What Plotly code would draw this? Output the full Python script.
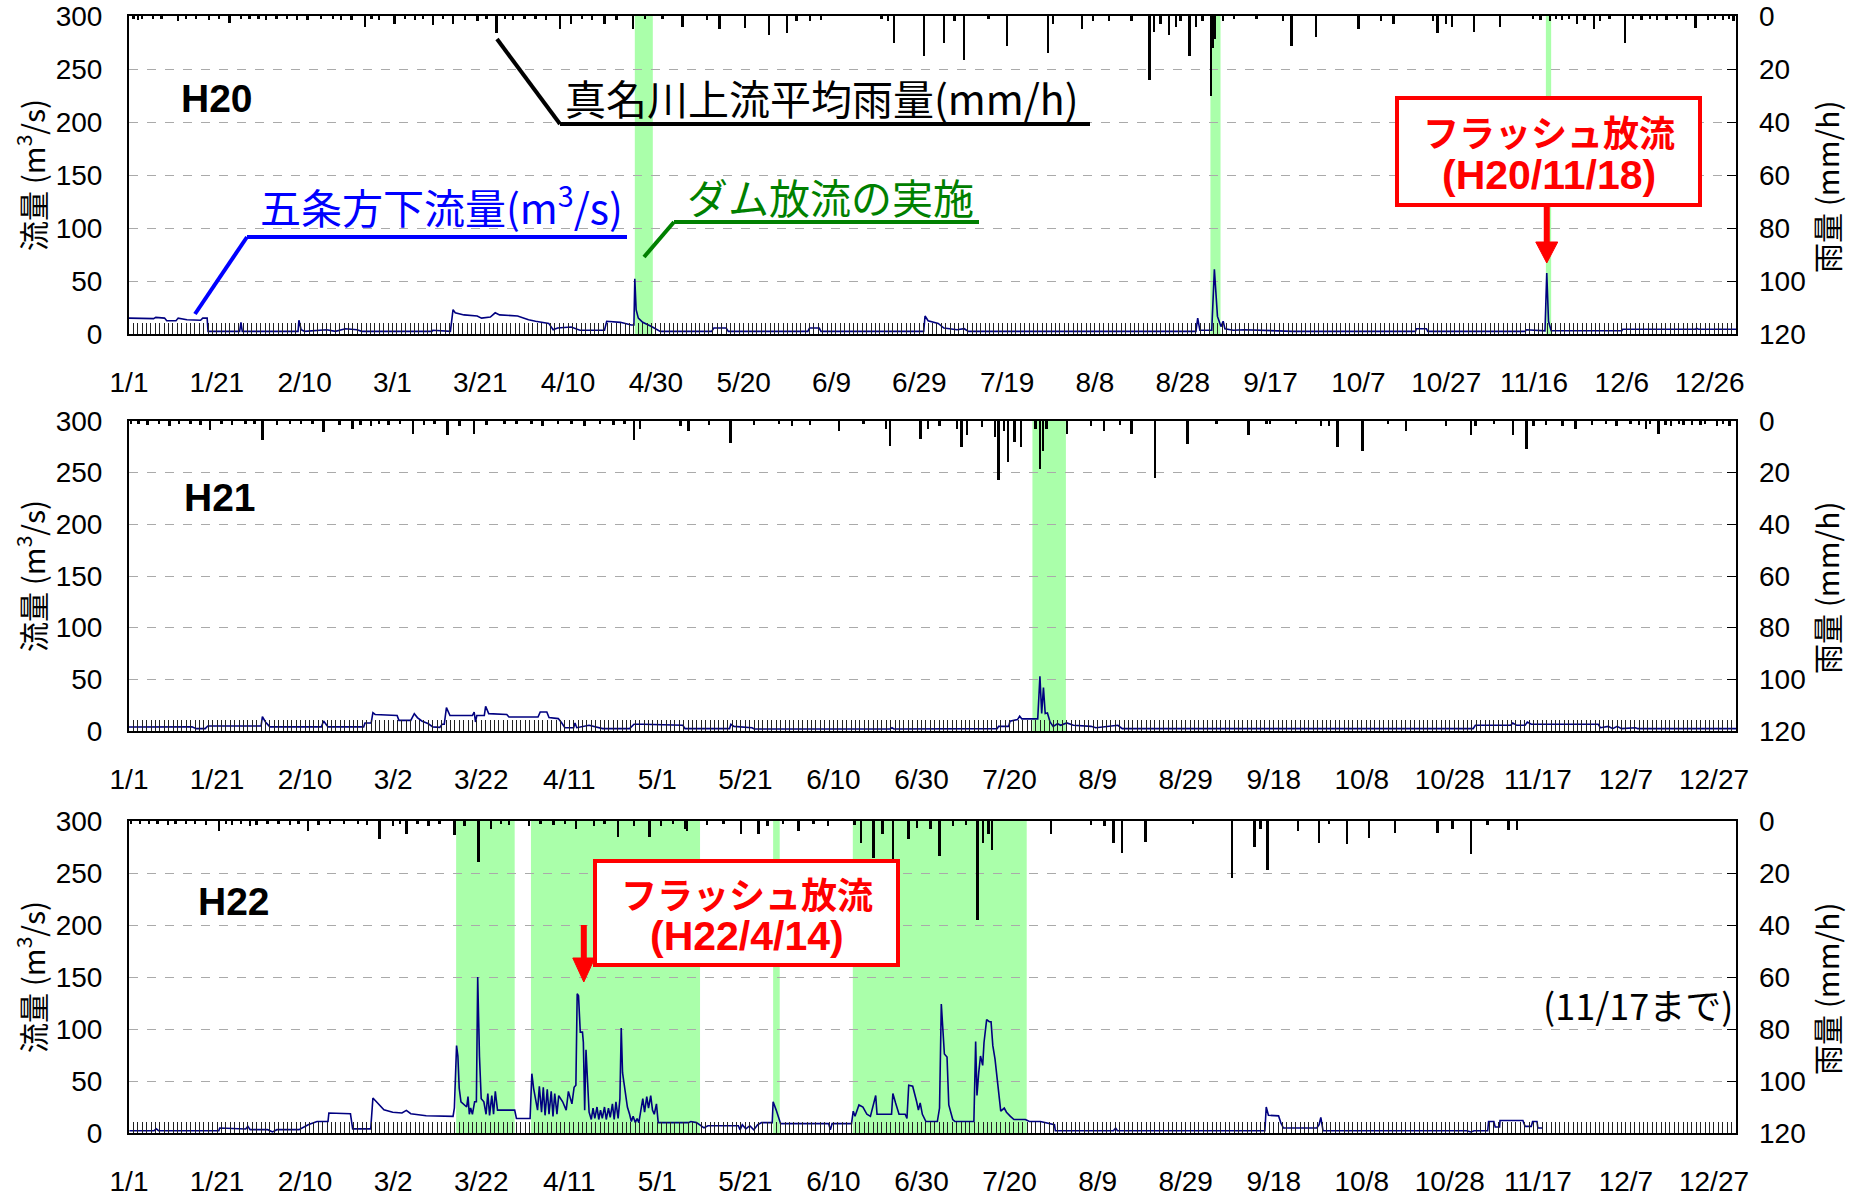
import plotly.graph_objects as go

W, H = 1854, 1197

# ---------------------------------------------------------------
# Data (x values are days counted from 1 Jan 00:00 of each year)
# ---------------------------------------------------------------
TICKS_LEAP = ["1/1", "1/21", "2/10", "3/1", "3/21", "4/10", "4/30", "5/20", "6/9", "6/29",
              "7/19", "8/8", "8/28", "9/17", "10/7", "10/27", "11/16", "12/6", "12/26"]
TICKS_NORMAL = ["1/1", "1/21", "2/10", "3/2", "3/22", "4/11", "5/1", "5/21", "6/10", "6/30",
                "7/20", "8/9", "8/29", "9/18", "10/8", "10/28", "11/17", "12/7", "12/27"]
TICK_DAYS = list(range(0, 361, 20))

# --- H20 (2008) ---
H20_FLOW_DAY = [0.0, 5.6, 6.1, 8.1, 8.6, 10.7, 11.2, 13.2, 16.3, 16.8, 17.8, 18.0, 25.2, 25.5, 25.8,
                38.5, 38.7, 39.2, 40.0, 42.7, 45.0, 47.0, 49.3, 51.9, 53.0, 69.0, 69.2, 73.2, 73.8,
                74.3, 76.3, 79.3, 80.3, 82.3, 83.4, 84.4, 88.5, 91.0, 92.6, 95.6, 96.6, 97.6, 100.7,
                102.7, 108.3, 108.8, 111.9, 114.4, 115.0, 115.2, 115.5, 116.0, 117.0, 119.0, 121.0,
                132.7, 133.2, 136.0, 136.5, 154.6, 155.0, 157.2, 157.6, 181.0, 181.3, 182.0, 184.3,
                185.6, 188.6, 190.2, 191.2, 243.0, 243.4, 243.9, 246.6, 247.2, 247.5, 247.9, 248.7,
                249.2, 249.6, 251.5, 254.0, 260.0, 265.0, 293.0, 293.2, 295.5, 295.8, 318.0, 318.2,
                322.5, 322.9, 323.3, 323.9, 340.0, 340.2, 356.8, 357.0, 357.4, 366.0]
H20_FLOW = [15, 14.5, 15.7, 15, 12.5, 12.5, 15, 13.5, 13, 15, 15, 2.5, 2.5, 11, 2.5,
            2.5, 13, 4, 2.5, 3, 4, 2.5, 5, 4, 2.5, 2.5, 3.5, 2.5, 23,
            20, 18, 17, 15, 16, 20, 18, 17, 13.5, 12, 10, 4, 5.6, 6.6,
            3.5, 3.5, 12, 11, 8.5, 8.5, 52, 23, 15, 11, 7, 2.5,
            2.5, 5.6, 5.6, 2.5, 2.5, 5.6, 5.6, 2.5, 2.5, 17, 12.5, 10,
            5.6, 4, 5, 2.5, 2.5, 15, 3.5, 3.5, 61, 39, 16.6, 7,
            12, 5, 3.5, 4, 3, 2.5, 2.5, 5, 5, 2.5, 2.5, 4,
            3, 57.5, 12, 3, 3, 4.5, 4.5, 5.5, 4.5, 4.5]
H20_RAIN_DAY = [1.0, 2.0, 3.0, 5.5, 7.4, 11.2, 13.0, 15.3, 18.2, 20.5, 22.9, 25.5, 27.4, 29.5,
                31.2, 33.6, 36.0, 38.3, 40.7, 43.7, 46.4, 48.3, 50.7, 53.7, 55.2, 57.0, 60.5,
                62.8, 65.1, 67.0, 69.2, 71.5, 73.8, 76.5, 79.4, 81.4, 83.7, 85.6, 87.5, 90.1,
                92.6, 95.0, 98.2, 100.7, 103.2, 105.5, 108.3, 111.0, 114.8, 117.5, 121.5, 126.1,
                131.7, 134.5, 140.3, 145.7, 149.8, 152.0, 155.1, 157.6, 171.4, 172.8, 174.2,
                181.0, 185.6, 188.0, 190.2, 195.8, 200.0, 209.3, 210.5, 217.1, 219.6, 223.2,
                228.3, 232.4, 233.4, 234.9, 236.9, 238.4, 239.5, 241.5, 243.0, 244.5, 246.4,
                246.9, 247.4, 249.1, 251.7, 256.8, 262.8, 264.8, 270.3, 280.0, 285.2, 288.0,
                297.0, 298.0, 299.9, 301.3, 306.3, 312.2, 319.8, 321.5, 323.6, 325.0, 326.4,
                328.0, 329.8, 331.5, 333.6, 335.0, 337.2, 340.7, 342.6, 344.5, 346.4, 348.0,
                350.2, 352.5, 354.6, 356.8, 359.6, 361.2, 363.0, 364.4, 365.4]
H20_RAIN = [1, 1.5, 1, 1, 1, 2, 1, 1, 1.5, 1, 2.5, 1, 1, 1,
            1.5, 1, 1, 1.5, 1.5, 1, 1, 1.5, 1.5, 4, 1, 1.5, 3,
            1, 1.5, 1, 3.5, 1, 3, 1.5, 2, 1, 6.5, 1, 1.5, 1,
            1, 1.5, 5, 3, 1, 1.5, 3, 1.5, 5, 1, 1, 4,
            1.5, 5, 4.5, 7, 6.5, 2, 2, 1.5, 1, 2, 10,
            15, 10, 2, 16.5, 1, 11.5, 14, 3, 5, 2, 2,
            2, 24, 6, 3, 7, 4, 2, 15, 4, 2, 30,
            12, 8.5, 2, 1, 1, 2, 11.5, 8, 5, 2, 3,
            2, 6.5, 3, 4, 6, 4, 1, 1.5, 2, 1, 1.5,
            1, 3, 1.5, 5, 2, 1, 10, 1, 1.5, 1, 1.5,
            1.5, 1, 1.5, 4.6, 1.5, 1, 1.5, 1, 2]
H20_RELEASE_START = [115.2, 246.3, 322.7]
H20_RELEASE_END = [119.3, 248.6, 323.9]
H20_FLASH_DAY = 322.9   # 11/18

# --- H21 (2009) ---
H21_FLOW_DAY = [0.0, 14.3, 15.3, 17.3, 17.9, 30.0, 30.3, 31.0, 32.0, 43.7, 44.2, 45.2, 53.3, 53.6,
                55.0, 55.4, 55.9, 60.9, 61.3, 64.0, 64.8, 65.5, 66.5, 68.0, 69.0, 70.6, 71.1, 71.6,
                72.1, 72.9, 78.0, 78.4, 78.7, 79.0, 80.7, 81.0, 81.7, 85.8, 86.3, 92.9, 93.4, 94.9,
                95.4, 97.5, 98.3, 99.0, 101.0, 101.3, 101.7, 104.5, 107.6, 113.7, 114.7, 116.7,
                125.8, 126.3, 136.4, 136.7, 137.4, 141.5, 142.0, 172.9, 173.3, 173.7, 197.2, 197.5,
                199.8, 200.1, 201.8, 202.3, 202.8, 206.4, 206.9, 207.3, 207.7, 208.1, 208.6, 209.2,
                209.9, 210.9, 211.6, 213.0, 214.5, 218.5, 219.6, 224.6, 225.6, 305.3, 305.8, 313.8,
                314.3, 315.2, 317.1, 317.6, 318.5, 333.7, 334.2, 336.0, 337.0, 338.0, 339.0, 342.2,
                342.7, 365.0]
H21_FLOW = [3.9, 4, 2.3, 2.3, 4.8, 4.8, 14, 8.7, 4, 4, 9.7, 4, 4, 7.7,
            7.7, 17.7, 16, 15, 10.3, 10.3, 16.8, 13, 9.7, 7, 4, 3.5, 6.5, 6.5,
            22.6, 15, 15, 18.4, 8.7, 15, 15, 23.9, 16.8, 16, 13.5, 13.5, 18.4, 18.4,
            13, 12, 7.7, 3.2, 3.2, 7.7, 3.2, 5.5, 2.3, 2.3, 6.5, 6.5,
            5.5, 2.3, 2.3, 6.5, 4.5, 3.2, 2, 2, 3.2, 2, 2.3, 4.5,
            4.5, 9.4, 11, 14.3, 11.7, 11.7, 53, 17, 42, 17, 17.5, 8.8,
            4.5, 7, 5.5, 7.8, 5.5, 4.5, 3.2, 5.5, 2.3, 2.3, 5.5, 5.5,
            7.7, 5.5, 5.5, 8.7, 6.5, 6.5, 3.2, 4.5, 2.3, 4.5, 2.3, 3.2,
            2.3, 2.3]
H21_RAIN_DAY = [0.5, 2.2, 4.2, 6.8, 9.2, 11.3, 14.0, 16.2, 18.4, 21.0, 23.4, 26.5, 28.5, 30.3,
                33.6, 36.6, 39.0, 41.7, 44.2, 47.8, 50.8, 52.6, 54.9, 56.8, 58.9, 61.5, 64.5,
                67.0, 69.4, 72.3, 75.1, 78.4, 81.2, 85.3, 88.0, 91.4, 93.9, 97.5, 100.5, 103.5,
                107.0, 110.0, 112.5, 114.7, 116.1, 125.3, 127.1, 131.8, 136.6, 142.0, 147.6,
                150.6, 154.7, 161.2, 166.8, 171.9, 172.9, 179.8, 181.5, 184.1, 188.1, 189.1,
                190.3, 193.7, 196.7, 197.5, 198.8, 199.6, 201.1, 202.6, 205.9, 206.9, 207.6,
                208.4, 213.0, 218.5, 221.4, 225.1, 227.7, 233.0, 240.4, 247.0, 254.3, 258.4,
                259.1, 265.1, 270.7, 272.6, 274.5, 280.2, 285.9, 290.1, 299.1, 304.8, 305.8,
                310.0, 314.3, 317.4, 319.0, 321.9, 325.6, 328.5, 332.3, 335.5, 337.9, 341.0,
                343.0, 344.6, 345.5, 347.4, 349.0, 350.3, 352.0, 353.1, 355.0, 356.9, 358.0,
                360.7, 362.0, 363.5]
H21_RAIN = [1, 1, 1.5, 1, 2, 1, 1, 1.5, 3.6, 1, 1.5, 1, 1, 7.2,
            1.5, 1, 1, 1, 4.3, 1.5, 3, 1.5, 2, 1, 1.5, 1, 5,
            1.5, 1, 5.5, 2, 5, 1.5, 1, 1, 1, 2, 1, 1, 2,
            1, 1.5, 1, 7.2, 3, 2, 4, 1.5, 8.5, 1.5, 1,
            2, 1.5, 4, 1, 3, 9.5, 7, 3, 2, 3, 10,
            5.5, 2.5, 6, 23, 4, 16, 8, 10, 3, 18.5, 11.5,
            3, 5, 2, 4, 1.5, 5, 22, 9, 1, 5.5, 1,
            1, 1, 2, 2, 10, 11.5, 1, 4, 2, 5.5, 2,
            1, 5.5, 10.7, 2, 1.5, 2, 3, 1.5, 1, 2, 1,
            1.5, 3, 1, 5, 1.5, 2, 1, 1.5, 1.5, 1.5, 1,
            2, 1, 2]
H21_RELEASE_START = [205.2]
H21_RELEASE_END = [212.8]

# --- H22 (2010, observed up to 11/17) ---
H22_FLOW_DAY = [0.1, 5.7, 6.2, 6.7, 20.4, 20.6, 26.5, 27.0, 27.5, 31.5, 32.6, 33.6, 38.6, 39.7,
                40.7, 42.7, 45.2, 45.4, 50.3, 50.8, 54.9, 55.4, 56.4, 57.9, 59.9, 62.0, 63.0, 64.0,
                67.5, 73.6, 73.9, 74.4, 74.7, 75.0, 75.4, 76.3, 76.7, 77.0, 77.3, 77.6, 78.0, 78.5,
                78.9, 79.2, 79.6, 80.0, 80.6, 81.1, 81.5, 81.9, 82.4, 82.8, 83.2, 83.7, 87.6, 88.0,
                91.1, 91.5, 91.9, 92.8, 93.2, 93.7, 94.1, 94.5, 95.0, 95.4, 95.9, 96.3, 96.7, 97.2,
                97.6, 98.5, 99.3, 99.8, 100.6, 101.1, 101.5, 101.8, 102.1, 102.5, 103.0, 103.2,
                103.5, 103.8, 104.1, 104.5, 105.0, 105.4, 105.8, 106.3, 106.7, 107.1, 107.5, 108.0,
                108.4, 108.9, 109.3, 109.8, 110.2, 110.6, 111.1, 111.5, 111.8, 112.1, 112.4, 112.8,
                113.2, 113.7, 114.1, 114.5, 115.0, 115.4, 115.8, 116.7, 117.1, 117.6, 118.0, 118.5,
                118.9, 119.3, 119.8, 120.2, 127.1, 127.6, 128.9, 130.6, 131.5, 138.4, 138.8, 139.3,
                140.1, 141.0, 141.9, 142.8, 143.7, 146.1, 146.3, 147.0, 147.6, 148.0, 158.9, 159.3,
                159.7, 164.1, 164.5, 164.9, 165.8, 166.7, 167.6, 168.4, 169.6, 169.9, 173.2, 173.5,
                174.1, 174.9, 176.3, 176.7, 177.1, 178.0, 178.9, 179.3, 179.7, 180.2, 181.0, 183.6,
                184.1, 184.5, 185.2, 185.8, 186.2, 187.1, 187.6, 191.9, 192.3, 192.6, 193.0, 193.4,
                193.9, 194.2, 194.8, 195.4, 195.8, 196.2, 196.7, 197.1, 197.5, 198.0, 198.8, 199.3,
                200.2, 201.0, 203.6, 204.5, 207.0, 210.2, 210.4, 223.6, 224.1, 224.5, 258.0, 258.3,
                258.8, 261.1, 261.6, 262.2, 269.8, 270.3, 270.7, 271.2, 303.9, 304.8, 305.5, 308.6,
                308.8, 310.0, 310.3, 311.3, 311.4, 316.6, 317.1, 318.5, 318.8, 319.8, 320.0, 321.1]
H22_FLOW = [2.2, 2.2, 4, 2.2, 2.2, 4.8, 3.8, 6.4, 3.2, 3.2, 1, 3.2, 3.2, 5.4,
            8, 11, 11, 19.2, 18.5, 4, 4, 33.6, 28.8, 22.4, 20, 19.2, 21.7, 18.5,
            16.6, 16, 24, 84, 74, 43, 30, 27, 25, 35, 18, 24, 18, 30,
            30, 150, 74, 33, 30, 18, 38, 17, 36, 18, 40, 22, 22, 14,
            14, 57, 43, 22, 45, 20, 44, 17, 42, 18, 40, 16, 38, 18,
            36, 30, 22, 40, 28, 44, 46, 134, 132, 97, 97, 87,
            22, 80, 46, 20, 13, 24, 14, 25, 13, 22, 14, 25,
            13, 24, 15, 28, 13, 30, 14, 33, 101, 58, 49, 36,
            25, 18, 11, 16, 10, 14, 10, 33, 20, 35, 24, 36,
            22, 18, 28, 10, 10, 11, 10, 5, 7, 7, 3, 8,
            4, 7, 3, 8, 10, 10, 30, 22, 13, 9, 9, 3,
            9, 9, 21, 16, 27, 25, 18, 16, 36, 18, 18, 38,
            29, 18, 18, 14, 46, 45, 30, 22, 29, 18, 11, 11,
            24, 124, 76, 73, 27, 13, 11, 11, 88, 36, 58, 74,
            65, 87, 109, 107, 107, 84, 71, 54, 43, 21, 24, 20,
            16, 13, 13, 11, 11, 8, 2.2, 2.2, 4.7, 2.2, 2.2, 25,
            17, 16.5, 10, 4.8, 4.8, 8, 15, 2.2, 2.2, 1, 2.2, 2.2,
            11, 11, 5.8, 5.8, 12, 12, 6.4, 6.4, 11, 11, 4.8, 4.8]
H22_RAIN_DAY = [0.5, 2.5, 4.5, 6.5, 8.8, 10.6, 12.9, 15.0, 17.5, 20.4, 22.0, 23.4, 25.5, 27.5,
                29.0, 31.5, 34.0, 36.6, 38.5, 40.7, 43.0, 45.7, 48.8, 52.0, 54.0, 56.9, 59.9,
                61.5, 63.0, 65.5, 68.0, 70.5, 73.9, 76.2, 79.4, 82.2, 84.5, 86.3, 90.9, 93.5,
                96.4, 99.0, 101.5, 105.6, 108.0, 111.1, 114.7, 118.2, 120.8, 123.5, 126.3,
                126.8, 131.3, 135.0, 139.0, 143.0, 145.0, 148.5, 152.1, 155.5, 158.7, 164.8,
                166.3, 169.1, 171.1, 173.5, 177.0, 179.0, 182.0, 184.1, 187.1, 190.1, 192.7,
                194.0, 195.2, 196.0, 209.4, 218.5, 221.6, 223.6, 225.6, 230.9, 241.7, 250.5,
                255.6, 257.0, 258.6, 265.5, 270.3, 272.6, 276.6, 281.6, 287.5, 297.2, 300.6,
                304.8, 308.6, 313.3, 315.2]
H22_RAIN = [1, 1, 1, 1, 1.5, 1, 1, 1, 1.5, 4, 1, 1.5, 1, 2,
            1.5, 1, 1, 1.5, 1, 4, 1.5, 1, 1, 1, 1.5, 6.8, 2,
            1, 5, 1, 2, 1, 5.5, 2, 15.7, 3, 1, 1.5, 2, 1,
            1.5, 1, 3, 2, 1, 6, 2, 6, 2, 1, 3,
            4, 1.5, 1, 5, 5, 2, 1, 4, 1, 2, 1.5,
            8.6, 14.3, 5, 15, 7, 2.5, 3, 13.4, 2, 1.5, 38,
            8.5, 5, 11, 5, 1.5, 2, 8.6, 12.4, 8, 1, 22,
            10, 3, 18.7, 4, 8.5, 1, 9, 6.4, 4.5, 4.5, 3,
            12.5, 1.5, 3.5, 3.5]
H22_RELEASE_START = [74.3, 91.3, 146.3, 164.4]
H22_RELEASE_END = [87.6, 129.7, 147.8, 203.9]
H22_FLASH_DAY = 103.3   # 4/14

# ---------------------------------------------------------------
# Layout helpers (pixel -> paper)
# ---------------------------------------------------------------
def px(x):
    return x / W


def py(y):
    return 1 - y / H


X_LEFT, X_RIGHT = 129, 1736
PANEL_PX = [(16, 334), (421, 731), (821, 1133)]   # (top, bottom) in pixels

NUM_FONT = "Liberation Sans, Arial, sans-serif"
JP_FONT = "Noto Sans CJK JP, sans-serif"
FLOW_COLOR = "#000080"
RELEASE_COLOR = "#AAFFAA"

panels = [
    dict(name="H20", ndays=366, ticks=TICKS_LEAP,
         fday=H20_FLOW_DAY, flow=H20_FLOW, rday=H20_RAIN_DAY, rain=H20_RAIN,
         rs=H20_RELEASE_START, re=H20_RELEASE_END, label_xy=(217, 98)),
    dict(name="H21", ndays=365, ticks=TICKS_NORMAL,
         fday=H21_FLOW_DAY, flow=H21_FLOW, rday=H21_RAIN_DAY, rain=H21_RAIN,
         rs=H21_RELEASE_START, re=H21_RELEASE_END, label_xy=(220, 497)),
    dict(name="H22", ndays=365, ticks=TICKS_NORMAL,
         fday=H22_FLOW_DAY, flow=H22_FLOW, rday=H22_RAIN_DAY, rain=H22_RAIN,
         rs=H22_RELEASE_START, re=H22_RELEASE_END, label_xy=(234, 901)),
]

fig = go.Figure()
shapes = []
annotations = []
layout_axes = {}

for i, p in enumerate(panels):
    n = i + 1
    xname = "x" if n == 1 else f"x{n}"
    yl_name = "y" if n == 1 else f"y{2 * n - 1}"
    yr_name = f"y{2 * n}"
    xkey = "xaxis" if n == 1 else f"xaxis{n}"
    ylkey = "yaxis" if n == 1 else f"yaxis{2 * n - 1}"
    yrkey = f"yaxis{2 * n}"
    top, bot = PANEL_PX[i]

    # rainfall (hanging from the top, reversed right axis)
    fig.add_trace(go.Bar(x=p["rday"], y=p["rain"], width=0.55, marker_color="black",
                         marker_line_width=0, xaxis=xname, yaxis=yr_name, showlegend=False))
    # discharge
    fig.add_trace(go.Scatter(x=p["fday"], y=p["flow"], mode="lines",
                             line=dict(color=FLOW_COLOR, width=1.6),
                             xaxis=xname, yaxis=yl_name, showlegend=False))

    # dam release periods
    for s, e in zip(p["rs"], p["re"]):
        shapes.append(dict(type="rect", xref=xname, yref="paper", x0=s, x1=e,
                           y0=py(bot), y1=py(top), fillcolor=RELEASE_COLOR,
                           line_width=0, layer="below"))

    layout_axes[xkey] = dict(
        domain=[px(X_LEFT), px(X_RIGHT)], range=[0, p["ndays"]], anchor=yl_name,
        tickmode="array", tickvals=TICK_DAYS, ticktext=p["ticks"],
        ticks="inside", ticklen=11, tickwidth=1, tickcolor="#222",
        minor=dict(ticks="inside", ticklen=11, tickwidth=1, tickcolor="#222",
                   tickmode="linear", tick0=0, dtick=1, showgrid=False),
        showgrid=False, zeroline=False, showline=True, linecolor="black", linewidth=2,
        mirror=True, automargin=False,
        tickfont=dict(family=NUM_FONT, size=28, color="black"),
        ticklabelstandoff=22,
    )
    layout_axes[ylkey] = dict(
        domain=[py(bot), py(top)], range=[0, 300], anchor=xname,
        tickmode="linear", tick0=0, dtick=50, ticks="",
        showgrid=True, gridcolor="#aaaaaa", griddash="dash", gridwidth=1,
        zeroline=False, showline=True, linecolor="black", linewidth=2, mirror=True,
        automargin=False,
        tickfont=dict(family=NUM_FONT, size=28, color="black"), ticklabelstandoff=19,
    )
    layout_axes[yrkey] = dict(
        overlaying=yl_name, side="right", anchor=xname, range=[120, 0],
        tickmode="linear", tick0=0, dtick=20, ticks="inside", ticklen=9,
        tickcolor="black", tickwidth=1, showgrid=False, zeroline=False, showline=False,
        automargin=False,
        tickfont=dict(family=NUM_FONT, size=28, color="black"), ticklabelstandoff=22,
    )

    # year label
    lx, ly = p["label_xy"]
    annotations.append(dict(text=f"<b>{p['name']}</b>", xref="paper", yref="paper",
                            x=px(lx), y=py(ly), xanchor="center", yanchor="middle",
                            showarrow=False, font=dict(family=NUM_FONT, size=39, color="black")))
    # axis titles
    cy = (top + bot) / 2
    annotations.append(dict(text="流量 (m<sup>3</sup>/s)", xref="paper", yref="paper",
                            x=px(31), y=py(cy), textangle=-90, showarrow=False,
                            xanchor="center", yanchor="middle",
                            font=dict(family=JP_FONT, size=30, color="black")))
    annotations.append(dict(text="雨量 (mm/h)", xref="paper", yref="paper",
                            x=px(1826), y=py(cy + 12), textangle=-90, showarrow=False,
                            xanchor="center", yanchor="middle",
                            font=dict(family=JP_FONT, size=30, color="black")))

# ---------------------------------------------------------------
# Call-outs
# ---------------------------------------------------------------
def leader(points, color):
    for (xa, ya), (xb, yb) in zip(points[:-1], points[1:]):
        shapes.append(dict(type="line", xref="paper", yref="paper",
                           x0=px(xa), y0=py(ya), x1=px(xb), y1=py(yb),
                           line=dict(color=color, width=4)))


leader([(497, 39), (560, 124), (1090, 124)], "black")
annotations.append(dict(text="真名川上流平均雨量(mm/h)", xref="paper", yref="paper",
                        x=px(563), y=py(97), xanchor="left", yanchor="middle", showarrow=False,
                        font=dict(family=JP_FONT, size=41, color="black")))

leader([(195, 314), (247, 237), (627, 237)], "#0000FF")
annotations.append(dict(text="五条方下流量(m<sup>3</sup>/s)", xref="paper", yref="paper",
                        x=px(258), y=py(205), xanchor="left", yanchor="middle", showarrow=False,
                        font=dict(family=JP_FONT, size=41, color="#0000FF")))

leader([(644, 257), (674, 222), (979, 222)], "#008000")
annotations.append(dict(text="ダム放流の実施", xref="paper", yref="paper",
                        x=px(685), y=py(196), xanchor="left", yanchor="middle", showarrow=False,
                        font=dict(family=JP_FONT, size=41, color="#008000")))


def flash_box(x0, x1, y0, y1, line2, xref, day, shaft_top, head_top, head_bot):
    shapes.append(dict(type="rect", xref="paper", yref="paper",
                       x0=px(x0), x1=px(x1), y0=py(y1), y1=py(y0),
                       fillcolor="white", line=dict(color="#FF0000", width=4)))
    cx = (x0 + x1) / 2
    h = y1 - y0
    annotations.append(dict(text="<b>フラッシュ放流</b>", xref="paper", yref="paper",
                            x=px(cx), y=py(y0 + 0.31 * h), xanchor="center", yanchor="middle",
                            showarrow=False, font=dict(family=JP_FONT, size=36, color="#FF0000")))
    annotations.append(dict(text=f"<b>{line2}</b>", xref="paper", yref="paper",
                            x=px(cx), y=py(y0 + 0.72 * h), xanchor="center", yanchor="middle",
                            showarrow=False, font=dict(family=NUM_FONT, size=41, color="#FF0000")))
    # arrow to the flush-release date
    shapes.append(dict(type="line", xref=xref, yref="paper", x0=day, x1=day,
                       y0=py(shaft_top), y1=py(head_top + 2),
                       line=dict(color="#FF0000", width=6)))
    hw = 11 * 366 / (X_RIGHT - X_LEFT)
    shapes.append(dict(type="path", xref=xref, yref="paper",
                       path=(f"M {day - hw},{py(head_top)} L {day + hw},{py(head_top)} "
                             f"L {day},{py(head_bot)} Z"),
                       fillcolor="#FF0000", line=dict(color="#FF0000", width=1)))


flash_box(1397, 1700, 98, 205, "(H20/11/18)", "x", H20_FLASH_DAY, 205, 242, 263)
flash_box(595, 898, 861, 965, "(H22/4/14)", "x3", H22_FLASH_DAY, 925, 958, 982)

annotations.append(dict(text="(11/17まで)", xref="paper", yref="paper",
                        x=px(1735), y=py(1004), xanchor="right", yanchor="middle",
                        showarrow=False, font=dict(family=JP_FONT, size=36, color="black")))

fig.update_layout(
    width=W, height=H, margin=dict(l=0, r=0, t=0, b=0, autoexpand=False),
    paper_bgcolor="white", plot_bgcolor="white", showlegend=False,
    bargap=0, shapes=shapes, annotations=annotations, **layout_axes,
)

fig.write_html("out.html")
